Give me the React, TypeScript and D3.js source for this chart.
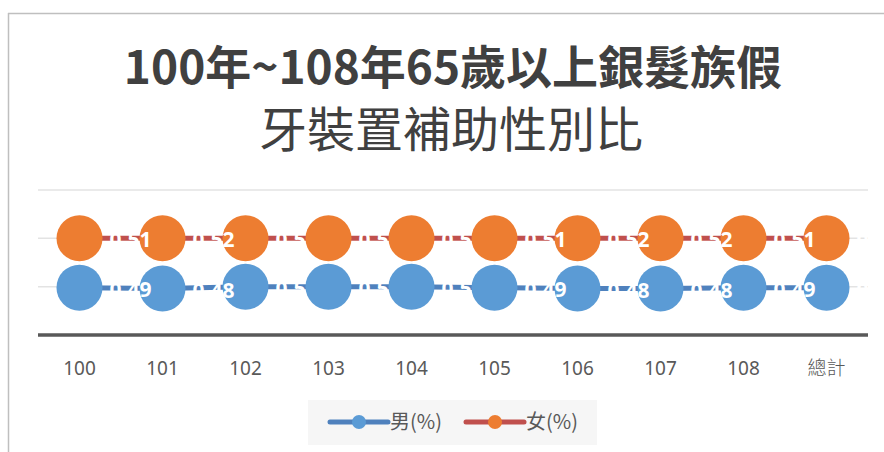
import React from "react";
import * as d3 from "d3";

const categories = ["100", "101", "102", "103", "104", "105", "106", "107", "108", "總計"];
const maleValues = [0.49, 0.48, 0.5, 0.5, 0.5, 0.49, 0.48, 0.48, 0.49, 0.49];
const femaleValues = [0.51, 0.52, 0.5, 0.5, 0.5, 0.51, 0.52, 0.52, 0.51, 0.51];
const yTicks = [0.5, 1.0, 1.5];
const seriesNames = ["男(%)", "女(%)"];
const titleLines = ["100年~108年65歲以上銀髮族假", "牙裝置補助性別比"];

const W = 884;
const H = 452;
const plot = { left: 38, right: 868, top: 190, bottom: 335 };

const lineColors = ["#4F81BD", "#C0504D"];
const markerColors = ["#5B9BD5", "#ED7D31"];

export default function App() {
  const x = d3
    .scaleBand<string>()
    .domain(categories)
    .range([plot.left, plot.right])
    .paddingInner(0)
    .paddingOuter(0);
  const cx = (c: string) => (x(c) as number) + x.bandwidth() / 2;
  const y = d3.scaleLinear().domain([0, 1.5]).range([plot.bottom, plot.top]);

  // stacked line chart: female stacked on male
  const stacked = [
    maleValues.map((v) => v),
    femaleValues.map((v, i) => maleValues[i] + v),
  ];
  const raw = [maleValues, femaleValues];

  const lineGen = d3
    .line<number>()
    .x((_, i) => cx(categories[i]))
    .y((d) => y(d));

  const font = "'Noto Sans', 'Noto Sans CJK TC', sans-serif";
  const cjk = "'Noto Sans CJK TC', 'Noto Sans', sans-serif";

  return (
    <svg
      width={W}
      height={H}
      style={{ position: "absolute", left: 0, top: 0, background: "#fff" }}
    >
      {/* chart frame */}
      <line x1={8.5} y1={13} x2={8.5} y2={H} stroke="#bfbfbf" strokeWidth={1.5} />
      <line x1={8} y1={13.5} x2={W} y2={13.5} stroke="#bfbfbf" strokeWidth={1.5} />

      {/* title */}
      <text
        x={453}
        y={84}
        textAnchor="middle"
        fontFamily={cjk}
        fontWeight={700}
        fontSize={46}
        fill="#404040"
      >
        {titleLines[0]}
      </text>
      <text
        x={451}
        y={147}
        textAnchor="middle"
        fontFamily={cjk}
        fontWeight={400}
        fontSize={48}
        fill="#404040"
      >
        {titleLines[1]}
      </text>

      {/* gridlines */}
      {yTicks.map((t) => (
        <line
          key={t}
          x1={plot.left}
          x2={plot.right}
          y1={y(t)}
          y2={y(t)}
          stroke="#e3e3e3"
          strokeWidth={1.5}
        />
      ))}

      {/* x axis */}
      <line
        x1={plot.left}
        x2={plot.right}
        y1={plot.bottom}
        y2={plot.bottom}
        stroke="#595959"
        strokeWidth={3.5}
      />
      {categories.map((c) => (
        <text
          key={c}
          x={cx(c)}
          y={375}
          textAnchor="middle"
          fontFamily={c === "總計" ? cjk : font}
          fontWeight={c === "總計" ? 300 : 400}
          fontSize={19}
          fill="#595959"
        >
          {c}
        </text>
      ))}

      {/* series lines and markers */}
      {stacked.map((vals, s) => (
        <g key={s}>
          <path
            d={lineGen(vals) as string}
            fill="none"
            stroke={lineColors[s]}
            strokeWidth={5}
          />
          {vals.map((v, i) => (
            <circle
              key={i}
              cx={cx(categories[i])}
              cy={y(v)}
              r={23}
              fill={markerColors[s]}
            />
          ))}
        </g>
      ))}

      {/* data labels (white, to the right of each point) */}
      {stacked.map((vals, s) => (
        <g key={"l" + s}>
          {vals.map((v, i) => (
            <text
              key={i}
              x={cx(categories[i]) + 30}
              y={y(v) + 9}
              fontFamily={font}
              fontWeight={700}
              fontSize={21}
              fill="#ffffff"
            >
              {String(raw[s][i])}
            </text>
          ))}
        </g>
      ))}

      {/* legend */}
      <rect x={308} y={400} width={289} height={45} fill="#f6f6f6" />
      {seriesNames.map((n, s) => {
        const lx = s === 0 ? 330 : 466;
        return (
          <g key={n}>
            <line
              x1={lx}
              x2={lx + 58}
              y1={422}
              y2={422}
              stroke={lineColors[s]}
              strokeWidth={5}
              strokeLinecap="round"
            />
            <circle cx={lx + 29} cy={422} r={7} fill={markerColors[s]} />
            <text
              x={lx + 60}
              y={429}
              fontFamily={cjk}
              fontSize={20}
              fill="#595959"
            >
              {n}
            </text>
          </g>
        );
      })}
    </svg>
  );
}
